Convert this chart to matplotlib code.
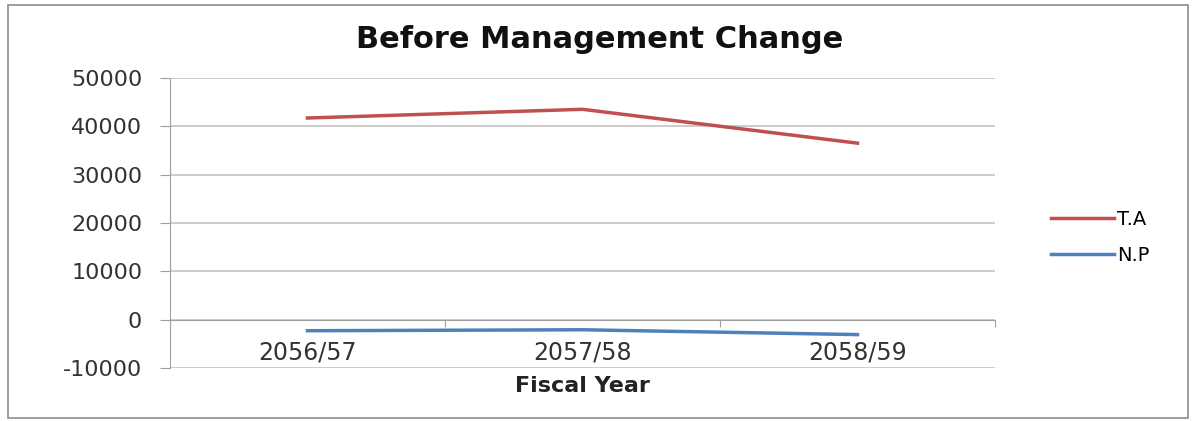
import matplotlib
matplotlib.use("Agg")
import matplotlib.pyplot as plt
from matplotlib.patches import Rectangle

# datos
years = ["2056/57", "2057/58", "2058/59"]
ta = [41700, 43500, 36500]     # T.A
np_ = [-2300, -2100, -3100]    # N.P
y_ticks = [-10000, 0, 10000, 20000, 30000, 40000, 50000]

plt.rcParams['font.family'] = ['DejaVu Sans']

fig = plt.figure(figsize=(11.93, 4.21), dpi=100)
fig.patch.set_facecolor('white')
# marco exterior del grafico
fig.patches.append(Rectangle((0.007, 0.007), 0.989, 0.98, transform=fig.transFigure,
                             fill=False, edgecolor='#8c8c8c', lw=1.2))

ax = fig.add_axes([0.1425, 0.126, 0.6915, 0.689])
x = list(range(len(years)))
ax.plot(x, ta, color='#C0504D', lw=2.5, label='T.A')
ax.plot(x, np_, color='#4F81BD', lw=2.5, label='N.P')

ax.set_xlim(-0.5, 2.5)
ax.set_ylim(-10000, 50000)
ax.set_yticks(y_ticks)
ax.set_yticklabels([str(v) for v in y_ticks], fontsize=16, color='#333333')
ax.yaxis.grid(True, color='#c4c4c4', lw=1.2)
ax.set_axisbelow(True)

for s in ['top', 'right']:
    ax.spines[s].set_visible(False)
ax.spines['left'].set_color('#a0a0a0')
ax.spines['bottom'].set_color('#a0a0a0')
ax.spines['bottom'].set_position(('data', 0))

# ticks entre categorias, etiquetas en el centro
ax.set_xticks([0.5, 1.5, 2.5])
ax.set_xticklabels(['', '', ''])
ax.set_xticks(x, minor=True)
ax.set_xticklabels(years, minor=True, fontsize=17, color='#333333')
ax.tick_params(axis='x', which='minor', length=0, pad=15)
ax.tick_params(axis='x', which='major', length=5, color='#a0a0a0')
ax.tick_params(axis='y', length=7, color='#a0a0a0', pad=13)

ax.text(1, -11600, 'Fiscal Year', ha='center', va='top', fontsize=16,
        fontweight='bold', color='#222222')
fig.text(0.503, 0.905, 'Before Management Change', ha='center', va='center',
         fontsize=22, fontweight='bold', color='#111111')

ax.legend(loc='center left', bbox_to_anchor=(1.0, 0.45), frameon=False,
          fontsize=14, handlelength=3.2, handletextpad=0.2, labelspacing=0.9,
          borderaxespad=2.5)

fig.savefig('out.png', dpi=100)
